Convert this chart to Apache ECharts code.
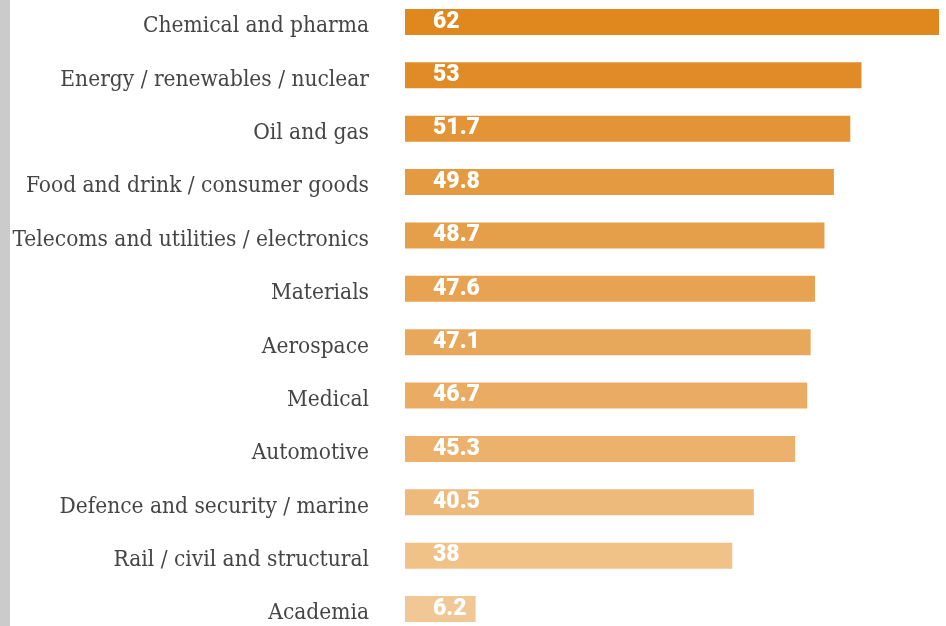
<!DOCTYPE html>
<html>
<head>
<meta charset="utf-8">
<script src="https://cdn.jsdelivr.net/npm/echarts@6/dist/echarts.min.js"></script>
<style>
  html, body { margin: 0; padding: 0; background: #ffffff; }
  #wrap { position: relative; width: 946px; height: 626px; overflow: hidden; }
  #strip { position: absolute; left: 0; top: 0; width: 10px; height: 626px; background: #cbcbcb; }
  #chart { position: absolute; left: 0; top: 0; width: 946px; height: 626px; }
</style>
</head>
<body>
<div id="wrap">
  <div id="strip"></div>
  <div id="chart"></div>
</div>
<script>
// Sectors, listed top to bottom
const sectors = [
  'Chemical and pharma',
  'Energy / renewables / nuclear',
  'Oil and gas',
  'Food and drink / consumer goods',
  'Telecoms and utilities / electronics',
  'Materials',
  'Aerospace',
  'Medical',
  'Automotive',
  'Defence and security / marine',
  'Rail / civil and structural',
  'Academia'
];
const scores = [62, 53, 51.7, 49.8, 48.7, 47.6, 47.1, 46.7, 45.3, 40.5, 38, 6.2];
const barColors = [
  '#e0881e', '#e08b26', '#e29436', '#e49a41', '#e59e49', '#e7a352',
  '#e8a85b', '#eaac63', '#ecb26d', '#eeba7c', '#f0c287', '#f1c895'
];

// Bars too short to hold their value get a tinted label box so the white text stays readable
const SHORT_BAR = 10;

const chart = echarts.init(document.getElementById('chart'), null, { renderer: 'canvas' });
chart.setOption({
  animation: false,
  grid: { left: 405, right: 7, top: -4.7, height: 640.4, containLabel: false, outerBoundsMode: 'none' },
  xAxis: {
    type: 'value', min: 0, max: 62,
    show: false
  },
  yAxis: {
    type: 'category',
    data: sectors,
    inverse: true,
    axisLine: { show: false },
    axisTick: { show: false },
    splitLine: { show: false },
    axisLabel: {
      margin: 36,
      formatter: (v) => '{t|' + v + '}',
      rich: {
        t: {
          padding: [9, 0, 0, 0],
          color: '#454545',
          fontFamily: 'DejaVu Serif Condensed, DejaVu Serif, serif',
          fontSize: 22.5
        }
      }
    }
  },
  series: [{
    type: 'bar',
    data: scores.map((v, i) => {
      const item = { value: v, itemStyle: { color: barColors[i] } };
      if (v < SHORT_BAR) {
        item.label = {
          offset: [0, 0],
          backgroundColor: barColors[i],
          padding: [2, 9, 1, 28],
          lineHeight: 23
        };
      }
      return item;
    }),
    barWidth: 26,
    label: {
      show: true,
      position: 'insideLeft',
      distance: 0,
      offset: [28, 0],
      color: '#ffffff',
      fontFamily: 'Roboto, sans-serif',
      fontWeight: 900,
      fontSize: 23
    }
  }]
});
</script>
</body>
</html>
